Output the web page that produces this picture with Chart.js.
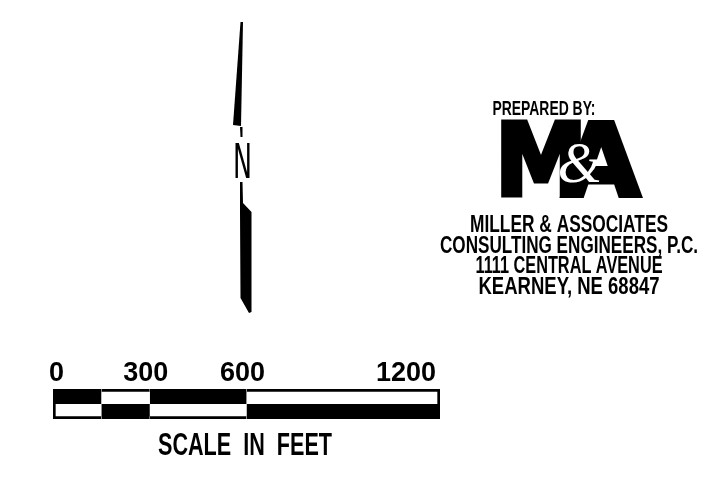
<!DOCTYPE html>
<html>
<head>
<meta charset="utf-8">
<style>
  html, body { margin: 0; padding: 0; background: #ffffff; }
  #wrap { position: relative; width: 726px; height: 487px; }
</style>
<script src="https://cdn.jsdelivr.net/npm/chart.js@4.4.1/dist/chart.umd.min.js"></script>
</head>
<body>
<div id="wrap"><canvas id="scale-chart"></canvas></div>
<script>
// scale bar: two rows of alternating cells, in feet
var rows = ['upper', 'lower'];
var segmentFeet = [150, 150, 300, 600];
var tickFeet = [0, 300, 600, 1200];
var scaleMax = 1200;
var scaleTitle = 'SCALE  IN  FEET';

// logo block
var preparedBy = 'PREPARED BY:';
var logoLines = ['MILLER & ASSOCIATES', 'CONSULTING ENGINEERS, P.C.', '1111 CENTRAL AVENUE', 'KEARNEY, NE 68847'];

// cell shades, one per segment
var upperShade = ['#000000', '#ffffff', '#000000', '#ffffff'];
var lowerShade = ['#ffffff', '#000000', '#ffffff', '#000000'];

var cadFont = '"Liberation Sans Narrow", "Liberation Sans", Arial, sans-serif';

var datasets = [];
for (var i = 0; i < segmentFeet.length; i++) {
    (function (i) {
        datasets.push({
            data: rows.map(function () { return segmentFeet[i]; }),
            backgroundColor: [upperShade[i], lowerShade[i]],
            borderColor: '#000000',
            borderSkipped: false,
            borderWidth: function (ctx) {
                return {
                    top: ctx.dataIndex === 0 ? 3 : 0,
                    bottom: ctx.dataIndex === 1 ? 3 : 0,
                    left: i === 0 ? 3 : 0,
                    right: i === segmentFeet.length - 1 ? 3 : 0
                };
            },
            barPercentage: 1,
            categoryPercentage: 1
        });
    })(i);
}

function fillPoly(ctx, pts) {
    ctx.beginPath();
    ctx.moveTo(pts[0][0], pts[0][1]);
    for (var k = 1; k < pts.length; k++) ctx.lineTo(pts[k][0], pts[k][1]);
    ctx.closePath();
    ctx.fill();
}

// north arrow, M&A logo and scale caption, drawn on the same canvas
var legendArt = {
    id: 'legendArt',
    afterDraw: function (chart) {
        var ctx = chart.ctx;
        var area = chart.chartArea;
        ctx.save();
        ctx.fillStyle = '#000000';
        ctx.strokeStyle = '#000000';

        // north arrow
        fillPoly(ctx, [[240.5, 22], [243, 22], [241, 126], [233, 125]]);
        fillPoly(ctx, [[240, 127], [242.5, 127], [242.5, 137], [240.5, 137]]);
        fillPoly(ctx, [[240, 182], [242.5, 182], [243, 203], [251.5, 212], [251.5, 312], [249, 313], [240.5, 298], [240, 212]]);
        ctx.textAlign = 'center';
        ctx.textBaseline = 'alphabetic';
        ctx.font = '48px "DejaVu Sans", sans-serif';
        ctx.fillText('N', 242.5, 178, 19);

        // caption under the bar
        ctx.font = 'bold 31px ' + cadFont;
        ctx.fillText(scaleTitle, (area.left + area.right) / 2 - 1.5, 455, 174);

        // prepared by
        ctx.font = 'bold 20px ' + cadFont;
        ctx.fillText(preparedBy, 544, 115, 103);

        // M&A mark
        ctx.lineWidth = 5;
        ctx.lineJoin = 'miter';
        ctx.font = 'bold 100px "DejaVu Sans", sans-serif';
        ctx.textAlign = 'left';
        ctx.fillText('M', 495, 195, 92);
        ctx.strokeText('M', 495, 195, 92);
        ctx.textAlign = 'right';
        ctx.fillText('A', 640, 195, 84);
        ctx.strokeText('A', 640, 195, 84);
        ctx.fillStyle = '#ffffff';
        ctx.textAlign = 'center';
        ctx.font = 'italic 58px "Liberation Serif", serif';
        ctx.fillText('&', 580, 182);

        // address lines
        ctx.fillStyle = '#000000';
        ctx.font = 'bold 23px ' + cadFont;
        var widths = [198, 258, 187, 181];
        for (var j = 0; j < logoLines.length; j++) {
            ctx.fillText(logoLines[j], 569, 232 + j * 20.5, widths[j]);
        }
        ctx.restore();
    }
};

new Chart(document.getElementById('scale-chart'), {
    type: 'bar',
    data: { labels: rows, datasets: datasets },
    options: {
        indexAxis: 'y',
        responsive: true,
        maintainAspectRatio: false,
        animation: false,
        layout: { padding: { left: 53, right: 286, top: 359, bottom: 68 } },
        scales: {
            y: { stacked: true, display: false },
            x: {
                type: 'linear', stacked: true, position: 'top',
                min: 0, max: scaleMax,
                grid: { display: false, drawTicks: false },
                border: { display: false },
                afterBuildTicks: function (s) { s.ticks = tickFeet.map(function (v) { return { value: v }; }); },
                afterFit: function (s) { s.height = 30; },
                ticks: {
                    color: '#000000', padding: 2, align: 'inner', labelOffset: -4, autoSkip: false,
                    callback: function (v) { return String(v); },
                    font: { family: cadFont, size: 27, weight: 'bold', lineHeight: 1 }
                }
            }
        },
        plugins: {
            legend: { display: false },
            tooltip: { enabled: false },
            title: { display: false }
        }
    },
    plugins: [legendArt]
});
</script>
</body>
</html>
